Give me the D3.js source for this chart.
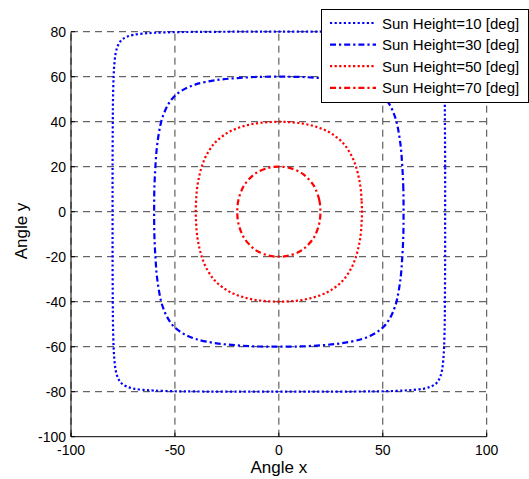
<!DOCTYPE html>
<html>
<head>
<meta charset="utf-8">
<script src="https://cdn.jsdelivr.net/npm/d3@7"></script>
<style>
    body { margin: 0; background: #fff; }
    svg { display: block; font-family: "Liberation Sans", Arial, sans-serif; }
    .grid line { stroke: #404040; stroke-width: 1; stroke-dasharray: 7,5; }
    .tick-label { font-size: 14px; fill: #000; }
    .axis-label { font-size: 17px; fill: #000; }
    .legend-label { font-size: 15px; fill: #000; }
</style>
</head>
<body>
<svg id="chart" width="529" height="479"></svg>
<script>
// data
const sun_heights= [10, 30, 50, 70]
const x_ticks= [-100, -50, 0, 50, 100]
const y_ticks= [-100, -80, -60, -40, -20, 0, 20, 40, 60, 80]

// [angle x, angle y] around each loop
const curve_10= [
    [80,0],[80,20],[79.9,40],[79.8,50],[79.5,60],[79.2,65],[78.6,70],[77.8,73],[76.8,75],[76,76],[75,76.8],[73,77.8],[70,78.6],[65,79.2],[60,79.5],[50,79.8],[40,79.9],[20,80],
    [0,80],[-20,80],[-40,79.9],[-50,79.8],[-60,79.5],[-65,79.2],[-70,78.6],[-73,77.8],[-75,76.8],[-76,76],[-76.8,75],[-77.8,73],[-78.6,70],[-79.2,65],[-79.5,60],[-79.8,50],[-79.9,40],[-80,20],
    [-80,0],[-80,-20],[-79.9,-40],[-79.8,-50],[-79.5,-60],[-79.2,-65],[-78.6,-70],[-77.8,-73],[-76.8,-75],[-76,-76],[-75,-76.8],[-73,-77.8],[-70,-78.6],[-65,-79.2],[-60,-79.5],[-50,-79.8],[-40,-79.9],[-20,-80],
    [0,-80],[20,-80],[40,-79.9],[50,-79.8],[60,-79.5],[65,-79.2],[70,-78.6],[73,-77.8],[75,-76.8],[76,-76],[76.8,-75],[77.8,-73],[78.6,-70],[79.2,-65],[79.5,-60],[79.8,-50],[79.9,-40],[80,-20]
]
const curve_30= [
    [60,0],[59.9,10],[59.4,20],[58.5,30],[56.6,40],[54.7,45],[53,48],[50.8,50.8],[48,53],[45,54.7],[40,56.6],[30,58.5],[20,59.4],[10,59.9],
    [0,60],[-10,59.9],[-20,59.4],[-30,58.5],[-40,56.6],[-45,54.7],[-48,53],[-50.8,50.8],[-53,48],[-54.7,45],[-56.6,40],[-58.5,30],[-59.4,20],[-59.9,10],
    [-60,0],[-59.9,-10],[-59.4,-20],[-58.5,-30],[-56.6,-40],[-54.7,-45],[-53,-48],[-50.8,-50.8],[-48,-53],[-45,-54.7],[-40,-56.6],[-30,-58.5],[-20,-59.4],[-10,-59.9],
    [0,-60],[10,-59.9],[20,-59.4],[30,-58.5],[40,-56.6],[45,-54.7],[48,-53],[50.8,-50.8],[53,-48],[54.7,-45],[56.6,-40],[58.5,-30],[59.4,-20],[59.9,-10]
]
const curve_50= [
    [40,0],[39.8,5],[39.4,10],[38.5,15],[37.1,20],[34.9,25],[30.7,30.7],[25,34.9],[20,37.1],[15,38.5],[10,39.4],[5,39.8],
    [0,40],[-5,39.8],[-10,39.4],[-15,38.5],[-20,37.1],[-25,34.9],[-30.7,30.7],[-34.9,25],[-37.1,20],[-38.5,15],[-39.4,10],[-39.8,5],
    [-40,0],[-39.8,-5],[-39.4,-10],[-38.5,-15],[-37.1,-20],[-34.9,-25],[-30.7,-30.7],[-25,-34.9],[-20,-37.1],[-15,-38.5],[-10,-39.4],[-5,-39.8],
    [0,-40],[5,-39.8],[10,-39.4],[15,-38.5],[20,-37.1],[25,-34.9],[30.7,-30.7],[34.9,-25],[37.1,-20],[38.5,-15],[39.4,-10],[39.8,-5]
]
const curve_70= [
    [20,0],[19.5,5],[17.7,10],[16.5,12],[14.4,14.4],[12,16.5],[10,17.7],[5,19.5],
    [0,20],[-5,19.5],[-10,17.7],[-12,16.5],[-14.4,14.4],[-16.5,12],[-17.7,10],[-19.5,5],
    [-20,0],[-19.5,-5],[-17.7,-10],[-16.5,-12],[-14.4,-14.4],[-12,-16.5],[-10,-17.7],[-5,-19.5],
    [0,-20],[5,-19.5],[10,-17.7],[12,-16.5],[14.4,-14.4],[16.5,-12],[17.7,-10],[19.5,-5]
]
const curves= [curve_10, curve_30, curve_50, curve_70]

// line styles, one per sun height
const DOTTED= "2.2,2.4"
const DASH_DOT= "6,3,2.2,3"
const styles= [
    {color: "#0000ff", dash: DOTTED},
    {color: "#0000ff", dash: DASH_DOT},
    {color: "#ff0000", dash: DOTTED},
    {color: "#ff0000", dash: DASH_DOT},
]

// inits
const svg= d3.select("#chart")
const plot= {left: 71, right: 486.7, top: 31.7, bottom: 436.7}

const x= d3.scaleLinear().domain([-100, 100]).range([plot.left, plot.right])
const y= d3.scaleLinear().domain([-100, 80]).range([plot.bottom, plot.top])

// grid
const grid= svg.append("g").attr("class", "grid")
grid.selectAll(".gx").data(x_ticks).join("line")
    .attr("x1", d => x(d)).attr("x2", d => x(d))
    .attr("y1", plot.bottom).attr("y2", plot.top)
grid.selectAll(".gy").data(y_ticks.filter(d => d > -100)).join("line")
    .attr("class", "gy")
    .attr("x1", plot.left).attr("x2", plot.right)
    .attr("y1", d => y(d)).attr("y2", d => y(d))

// curves
const line= d3.line()
    .x(d => x(d[0]))
    .y(d => y(d[1]))
    .curve(d3.curveCatmullRomClosed.alpha(0.5))

svg.append("g").selectAll("path").data(curves).join("path")
    .attr("d", d => line(d))
    .attr("fill", "none")
    .attr("stroke", (d, i) => styles[i].color)
    .attr("stroke-width", 2.2)
    .attr("stroke-dasharray", (d, i) => styles[i].dash)

// axes -- left and bottom only, ticks pointing inwards
const axes= svg.append("g")
axes.append("line")
    .attr("x1", plot.left).attr("x2", plot.left)
    .attr("y1", plot.bottom).attr("y2", plot.top)
    .attr("stroke", "#000")
axes.append("line")
    .attr("x1", plot.left).attr("x2", plot.right)
    .attr("y1", plot.bottom).attr("y2", plot.bottom)
    .attr("stroke", "#000")
axes.selectAll(".tx").data(x_ticks).join("line")
    .attr("class", "tx")
    .attr("x1", d => x(d)).attr("x2", d => x(d))
    .attr("y1", plot.bottom).attr("y2", plot.bottom - 4)
    .attr("stroke", "#000")
axes.selectAll(".ty").data(y_ticks).join("line")
    .attr("class", "ty")
    .attr("x1", plot.left).attr("x2", plot.left + 4)
    .attr("y1", d => y(d)).attr("y2", d => y(d))
    .attr("stroke", "#000")

// tick labels
axes.selectAll(".lx").data(x_ticks).join("text")
    .attr("class", "lx tick-label")
    .attr("x", d => x(d))
    .attr("y", plot.bottom + 18.5)
    .attr("text-anchor", "middle")
    .text(d => d)
axes.selectAll(".ly").data(y_ticks).join("text")
    .attr("class", "ly tick-label")
    .attr("x", plot.left - 5)
    .attr("y", d => y(d) + 5)
    .attr("text-anchor", "end")
    .text(d => d)

// axis labels
svg.append("text")
    .attr("class", "axis-label")
    .attr("x", (plot.left + plot.right) / 2)
    .attr("y", 473)
    .attr("text-anchor", "middle")
    .text("Angle x")
svg.append("text")
    .attr("class", "axis-label")
    .attr("transform", "translate(26.5, 231) rotate(-90)")
    .attr("text-anchor", "middle")
    .text("Angle y")

// legend
const legend= svg.append("g").attr("transform", "translate(321, 9)")
legend.append("rect")
    .attr("x", 0.5).attr("y", 0.5)
    .attr("width", 207).attr("height", 93)
    .attr("fill", "#fff")
    .attr("stroke", "#000")

const rows= legend.selectAll(".row").data(sun_heights).join("g")
    .attr("class", "row")
    .attr("transform", (d, i) => `translate(0, ${14 + i * 21.6})`)
rows.append("line")
    .attr("x1", 9).attr("x2", 55)
    .attr("stroke", (d, i) => styles[i].color)
    .attr("stroke-width", 2.2)
    .attr("stroke-dasharray", (d, i) => styles[i].dash)
rows.append("text")
    .attr("class", "legend-label")
    .attr("x", 61)
    .attr("y", 5.5)
    .text(d => `Sun Height=${d} [deg]`)
</script>
</body>
</html>
